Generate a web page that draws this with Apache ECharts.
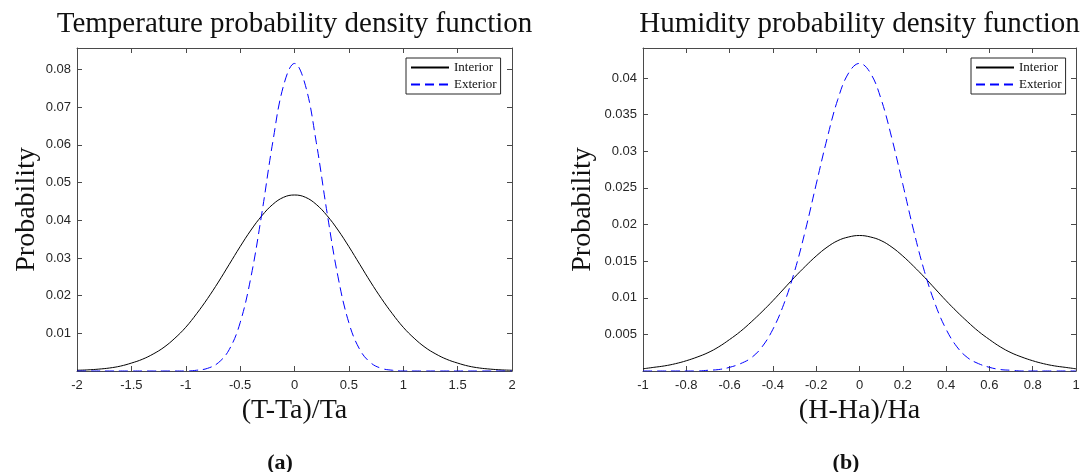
<!DOCTYPE html>
<html><head><meta charset="utf-8">
<style>html,body{margin:0;padding:0;background:#fff}#c{width:1085px;height:472px}</style>
<script src="https://cdn.jsdelivr.net/npm/echarts@6/dist/echarts.min.js"></script>
</head><body><div id="c"></div>
<script>
// ---- data ----
const tempX = [-2.0,-1.9,-1.8,-1.7,-1.6,-1.5,-1.4,-1.3,-1.2,-1.1,-1.0,-0.9,-0.8,-0.7,-0.6,-0.5,-0.4,-0.3,-0.2,-0.1,0.0,
  0.1,0.2,0.3,0.4,0.5,0.6,0.7,0.8,0.9,1.0,1.1,1.2,1.3,1.4,1.5,1.6,1.7,1.8,1.9,2.0];
const tempInterior = [0.0002,0.0003,0.0005,0.0008,0.0013,0.0021,0.0031,0.0045,0.0063,0.0087,0.0116,0.0152,0.0192,0.0236,0.0283,0.0330,0.0374,0.0412,0.0442,0.0461,0.0467,
  0.0461,0.0442,0.0412,0.0374,0.0330,0.0283,0.0236,0.0192,0.0152,0.0116,0.0087,0.0063,0.0045,0.0031,0.0021,0.0013,0.0008,0.0005,0.0003,0.0002];
const tempExterior = [0,0,0,0,0,0,0,0,0,0,0.0000,0.0002,0.0007,0.0022,0.0057,0.0128,0.0250,0.0419,0.0607,0.0758,0.0816,
  0.0758,0.0607,0.0419,0.0250,0.0128,0.0057,0.0022,0.0007,0.0002,0.0000,0,0,0,0,0,0,0,0,0,0];
const humX = [-1.0,-0.95,-0.9,-0.85,-0.8,-0.75,-0.7,-0.65,-0.6,-0.55,-0.5,-0.45,-0.4,-0.35,-0.3,-0.25,-0.2,-0.15,-0.1,-0.05,0.0,
  0.05,0.1,0.15,0.2,0.25,0.3,0.35,0.4,0.45,0.5,0.55,0.6,0.65,0.7,0.75,0.8,0.85,0.9,0.95,1.0];
const humInterior = [0.0003,0.0005,0.0007,0.0010,0.0014,0.0019,0.0025,0.0033,0.0043,0.0054,0.0067,0.0081,0.0096,0.0112,0.0128,0.0143,0.0157,0.0169,0.0178,0.0183,0.0185,
  0.0183,0.0178,0.0169,0.0157,0.0143,0.0128,0.0112,0.0096,0.0081,0.0067,0.0054,0.0043,0.0033,0.0025,0.0019,0.0014,0.0010,0.0007,0.0005,0.0003];
const humExterior = [0,0,0,0,0,0,0.0001,0.0002,0.0005,0.0010,0.0018,0.0033,0.0057,0.0091,0.0136,0.0192,0.0255,0.0317,0.0371,0.0407,0.0420,
  0.0407,0.0371,0.0317,0.0255,0.0192,0.0136,0.0091,0.0057,0.0033,0.0018,0.0010,0.0005,0.0002,0.0001,0,0,0,0,0,0];
const titles = ['Temperature probability density function', 'Humidity probability density function'];
const xNames = ['(T-Ta)/Ta', '(H-Ha)/Ha'];
const yName = 'Probability';
const captions = ['(a)', '(b)'];
const seriesNames = ['Interior', 'Exterior'];
const xRanges = [[-2, 2, 0.5], [-1, 1, 0.2]];
const yRanges = [[0, 0.0857, 0.01], [0, 0.0441, 0.005]];

// ---- styling / layout ----
const axisColor = '#4a4a4a';
const labelColor = '#262626';
const serif = '"Liberation Serif", "Times New Roman", serif';
const sans = '"Liberation Sans", Arial, sans-serif';
const grids = [
  {left: 77, top: 48, width: 435, height: 323},
  {left: 643, top: 48, width: 433, height: 323}
];
const yNameGaps = [36, 46];
const legendLefts = [406, 971];
const captionX = [280, 846];

function pairs(xs, ys) { return xs.map((x, i) => [x, ys[i]]); }
const fmt = v => (v <= 0 ? '' : String(parseFloat(v.toFixed(4))));

const xAxis = [], yAxis = [], series = [], legend = [], title = [], graphic = [];
[0, 1].forEach(g => {
  const [xmin, xmax, xint] = xRanges[g];
  const [ymin, ymax, yint] = yRanges[g];
  const tick = {show: true, inside: true, length: 5, lineStyle: {color: axisColor, width: 1}};
  const line = {show: true, onZero: false, lineStyle: {color: axisColor, width: 1}};
  xAxis.push({
    type: 'value', gridIndex: g, min: xmin, max: xmax, interval: xint, position: 'bottom',
    axisLine: line, axisTick: tick, splitLine: {show: false},
    axisLabel: {color: labelColor, fontFamily: sans, fontSize: 13, margin: 8},
    name: xNames[g], nameLocation: 'middle', nameGap: 22,
    nameTextStyle: {fontFamily: serif, fontSize: 28, color: '#111'}
  });
  xAxis.push({
    type: 'value', gridIndex: g, min: xmin, max: xmax, interval: xint, position: 'top',
    axisLine: line, axisTick: tick, splitLine: {show: false}, axisLabel: {show: false}
  });
  yAxis.push({
    type: 'value', gridIndex: g, min: ymin, max: ymax, interval: yint, position: 'left',
    axisLine: line, axisTick: tick, splitLine: {show: false},
    axisLabel: {color: labelColor, fontFamily: sans, fontSize: 13, margin: 6, showMaxLabel: false, formatter: fmt},
    name: yName, nameLocation: 'middle', nameGap: yNameGaps[g],
    nameTextStyle: {fontFamily: serif, fontSize: 28, color: '#111'}
  });
  yAxis.push({
    type: 'value', gridIndex: g, min: ymin, max: ymax, interval: yint, position: 'right',
    axisLine: line, axisTick: tick, splitLine: {show: false},
    axisLabel: {show: false}
  });
  const xs = g === 0 ? tempX : humX;
  const ins = g === 0 ? tempInterior : humInterior;
  const ext = g === 0 ? tempExterior : humExterior;
  series.push({
    name: seriesNames[0], type: 'line', xAxisIndex: 2 * g, yAxisIndex: 2 * g,
    data: pairs(xs, ins), symbol: 'none', smooth: 0.4, silent: true,
    lineStyle: {color: '#000', width: 1}, itemStyle: {color: '#000'}, z: 3
  });
  series.push({
    name: seriesNames[1], type: 'line', xAxisIndex: 2 * g, yAxisIndex: 2 * g,
    data: pairs(xs, ext), symbol: 'none', smooth: 0.4, silent: true,
    lineStyle: {color: '#0000ff', width: 1, type: [9, 5]}, itemStyle: {color: '#0000ff'}, z: 4
  });
  legend.push({
    left: legendLefts[g], top: 58, orient: 'vertical', itemWidth: 38, itemHeight: 12, itemGap: 4,
    padding: [3, 4, 3, 4], borderColor: '#262626', borderWidth: 1, backgroundColor: '#fff',
    itemStyle: {color: 'rgba(0,0,0,0)', borderWidth: 0, opacity: 0},
    textStyle: {fontFamily: serif, fontSize: 13, color: '#111'}, data: seriesNames, selectedMode: false
  });
  title.push({
    text: titles[g], left: grids[g].left + grids[g].width / 2, top: 10, textAlign: 'center', padding: 0,
    textStyle: {fontFamily: serif, fontSize: 29, fontWeight: 'normal', color: '#111'}
  });
  graphic.push({
    type: 'text', x: captionX[g], y: 463,
    style: {text: captions[g], align: 'center', verticalAlign: 'middle',
      font: 'bold 22px ' + serif, fill: '#111'}
  });
});

const chart = echarts.init(document.getElementById('c'), null, {renderer: 'canvas'});
chart.setOption({
  animation: false,
  backgroundColor: '#fff',
  grid: grids, xAxis, yAxis, series, legend, title, graphic
});
</script>
</body></html>
